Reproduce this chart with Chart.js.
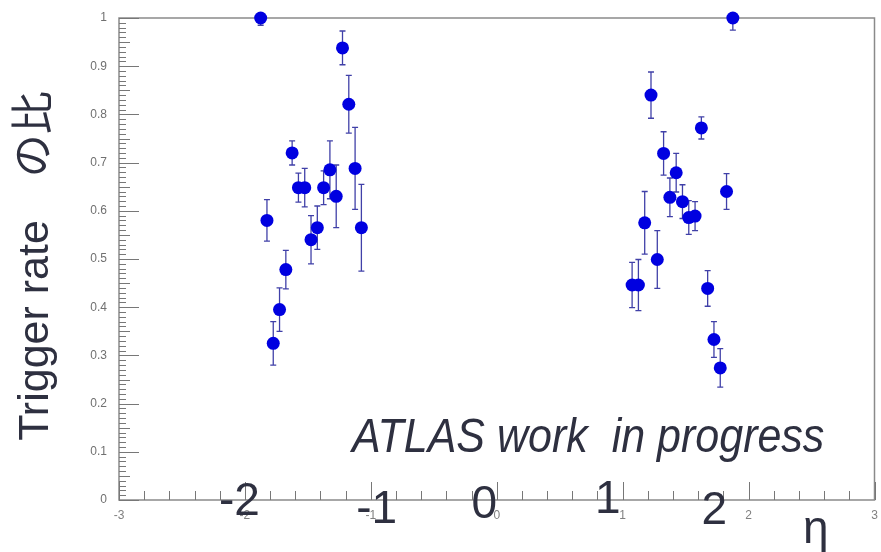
<!DOCTYPE html>
<html>
<head>
<meta charset="utf-8">
<script src="https://cdn.jsdelivr.net/npm/chart.js@4.4.1/dist/chart.umd.min.js"></script>
<style>
  html, body { margin: 0; padding: 0; background: #fff; }
  canvas { display: block; }
</style>
</head>
<body>
<canvas id="rateChart" width="881" height="552"></canvas>
<script>
// eta bin centres (0.05 wide bins)
const etaBins = [
  -1.875, -1.825, -1.775, -1.725, -1.675, -1.625, -1.575, -1.525, -1.475,
  -1.425, -1.375, -1.325, -1.275, -1.225, -1.175, -1.125, -1.075,
  1.075, 1.125, 1.175, 1.225, 1.275, 1.325, 1.375, 1.425, 1.475,
  1.525, 1.575, 1.625, 1.675, 1.725, 1.775, 1.825, 1.875
];
const triggerRate = [
  1.0, 0.58, 0.325, 0.395, 0.478, 0.72, 0.648, 0.648, 0.54,
  0.565, 0.648, 0.685, 0.63, 0.938, 0.821, 0.688, 0.565,
  0.446, 0.446, 0.575, 0.84, 0.499, 0.719, 0.628, 0.679, 0.619,
  0.586, 0.589, 0.772, 0.439, 0.333, 0.274, 0.64, 1.0
];
const rateError = [
  0.015, 0.043, 0.045, 0.045, 0.04, 0.025, 0.03, 0.04, 0.05,
  0.045, 0.035, 0.06, 0.065, 0.035, 0.06, 0.085, 0.09,
  0.047, 0.053, 0.065, 0.048, 0.06, 0.045, 0.04, 0.04, 0.035,
  0.035, 0.03, 0.023, 0.037, 0.037, 0.04, 0.037, 0.025
];
// big slide labels written over the axis
const slideLabels = ['-2', '-1', '0', '1', '2'];
const yTitle = 'Trigger rate\u3000の比';
const xTitle = 'η';
const watermark = 'ATLAS work  in progress';

const textFont = "'Liberation Sans', 'Noto Sans CJK JP', sans-serif";
const textColor = '#2e3040';

// ROOT style frame + inward ticks
const rootFrame = {
  id: 'rootFrame',
  beforeDatasetsDraw(chart) {
    const { ctx, chartArea: a, scales: { x, y } } = chart;
    ctx.save();
    ctx.strokeStyle = '#8a8a8a';
    ctx.lineWidth = 1.5;
    ctx.strokeRect(a.left, a.top, a.right - a.left, a.bottom - a.top);
    ctx.strokeStyle = '#777';
    ctx.lineWidth = 1;
    ctx.beginPath();
    for (let k = 0; k <= 100; k++) {
      const py = Math.round(y.getPixelForValue(k / 100)) + 0.5;
      const len = k % 10 === 0 ? 20 : (k % 5 === 0 ? 11 : 7);
      ctx.moveTo(a.left, py);
      ctx.lineTo(a.left + len, py);
    }
    for (let k = -15; k <= 15; k++) {
      const px = Math.round(x.getPixelForValue(k / 5)) + 0.5;
      const len = k % 5 === 0 ? 18 : 9;
      ctx.moveTo(px, a.bottom);
      ctx.lineTo(px, a.bottom - len);
    }
    ctx.stroke();
    ctx.restore();
  }
};

const errorBars = {
  id: 'errorBars',
  beforeDatasetsDraw(chart) {
    const { ctx, chartArea: a, scales: { x, y } } = chart;
    ctx.save();
    ctx.beginPath();
    ctx.rect(a.left, a.top, a.right - a.left, a.bottom - a.top);
    ctx.clip();
    ctx.strokeStyle = '#4040a8';
    ctx.lineWidth = 1.3;
    etaBins.forEach((eta, i) => {
      const px = x.getPixelForValue(eta);
      const top = y.getPixelForValue(triggerRate[i] + rateError[i]);
      const bot = y.getPixelForValue(triggerRate[i] - rateError[i]);
      ctx.beginPath();
      ctx.moveTo(px, top); ctx.lineTo(px, bot);
      ctx.moveTo(px - 3, top); ctx.lineTo(px + 3, top);
      ctx.moveTo(px - 3, bot); ctx.lineTo(px + 3, bot);
      ctx.stroke();
    });
    ctx.restore();
  }
};

const slideText = {
  id: 'slideText',
  afterDraw(chart) {
    const { ctx, scales: { x } } = chart;
    ctx.save();
    ctx.fillStyle = textColor;
    ctx.textAlign = 'center';
    ctx.textBaseline = 'middle';

    // axis title on the left
    ctx.save();
    ctx.translate(36, 266);
    ctx.rotate(-Math.PI / 2);
    ctx.font = '43px ' + textFont;
    ctx.fillText(yTitle, 0, 0);
    ctx.restore();

    // large numbers over the eta axis (slightly off the real ticks, like the slide)
    const offsets = [[-2.043, 502], [-0.953, 510], [-0.099, 505], [0.881, 500], [1.727, 511]];
    ctx.font = '46px ' + textFont;
    slideLabels.forEach((t, i) => {
      ctx.fillText(t, x.getPixelForValue(offsets[i][0]), offsets[i][1]);
    });
    ctx.textBaseline = 'alphabetic';
    ctx.fillText(xTitle, x.getPixelForValue(2.534), 543);

    ctx.font = 'italic 43px ' + textFont;
    ctx.textAlign = 'left';
    ctx.save();
    ctx.translate(352, 452);
    ctx.scale(1, 1.1);
    ctx.fillText(watermark, 0, 0);
    ctx.restore();
    ctx.restore();
  }
};

new Chart(document.getElementById('rateChart'), {
  type: 'scatter',
  data: {
    datasets: [{
      data: etaBins.map((eta, i) => ({ x: eta, y: triggerRate[i] })),
      backgroundColor: '#0000e0',
      borderWidth: 0,
      pointRadius: 6.5,
      clip: false
    }]
  },
  options: {
    responsive: false,
    animation: false,
    layout: { padding: { top: 18, right: 0, left: 0, bottom: 0 } },
    plugins: { legend: { display: false }, tooltip: { enabled: false } },
    scales: {
      x: {
        type: 'linear', min: -3, max: 3,
        grid: { display: false }, border: { display: false },
        ticks: { stepSize: 1, color: '#808080', padding: 0, font: { family: textFont, size: 12 } },
        afterFit: s => { s.height = 52; s.paddingLeft = 0; s.paddingRight = 0; }
      },
      y: {
        min: 0, max: 1,
        grid: { display: false }, border: { display: false },
        ticks: {
          stepSize: 0.1, color: '#707070', padding: 4,
          font: { family: textFont, size: 12 },
          callback: v => (v === 0 || v === 1) ? String(v) : v.toFixed(1)
        },
        afterFit: s => { s.width = 119; }
      }
    }
  },
  plugins: [rootFrame, errorBars, slideText]
});
</script>
</body>
</html>
